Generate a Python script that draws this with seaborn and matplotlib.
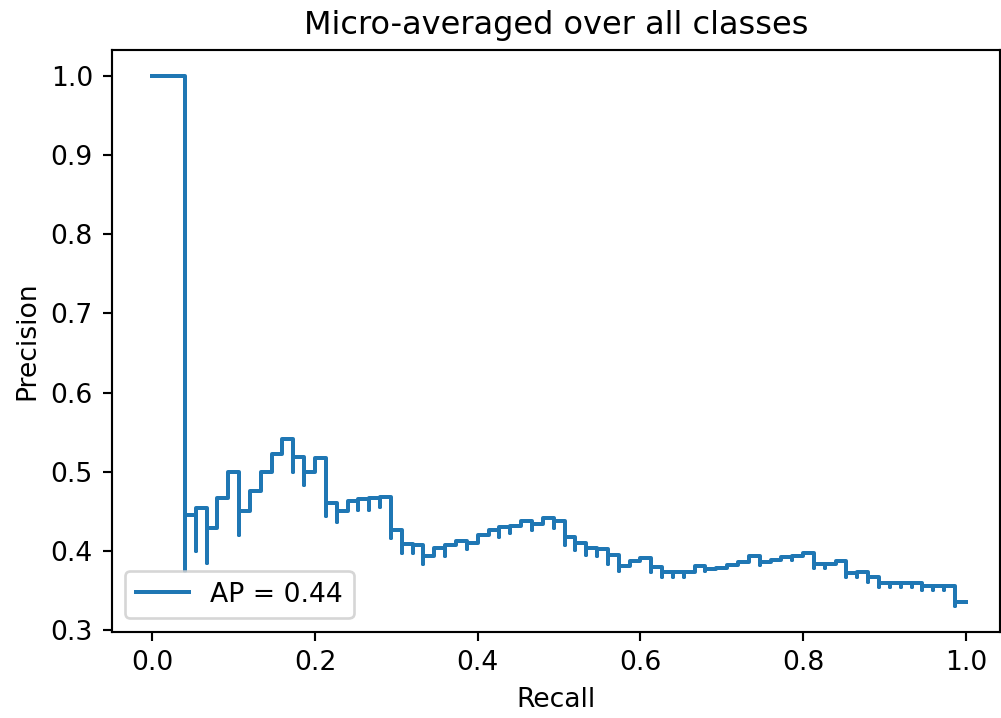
import matplotlib
matplotlib.use("Agg")
import matplotlib.pyplot as plt
import pandas as pd
import seaborn as sns

# Recall reached at each step of the curve (75 positive labels in total)
recall = [
    0.0400, 0.0533, 0.0667, 0.0800, 0.0933, 0.1067, 0.1200, 0.1333, 0.1467, 0.1600,
    0.1733, 0.1867, 0.2000, 0.2133, 0.2267, 0.2400, 0.2533, 0.2667, 0.2800, 0.2933,
    0.3067, 0.3200, 0.3333, 0.3467, 0.3600, 0.3733, 0.3867, 0.4000, 0.4133, 0.4267,
    0.4400, 0.4533, 0.4667, 0.4800, 0.4933, 0.5067, 0.5200, 0.5333, 0.5467, 0.5600,
    0.5733, 0.5867, 0.6000, 0.6133, 0.6267, 0.6400, 0.6533, 0.6667, 0.6800, 0.6933,
    0.7067, 0.7200, 0.7333, 0.7467, 0.7600, 0.7733, 0.7867, 0.8000, 0.8133, 0.8267,
    0.8400, 0.8533, 0.8667, 0.8800, 0.8933, 0.9067, 0.9200, 0.9333, 0.9467, 0.9600,
    0.9733, 0.9867, 1.0000,
]

# Best precision reached at each recall value (the level of the step)
precision_step = [
    1.000, 0.445, 0.454, 0.429, 0.467, 0.500, 0.450, 0.476, 0.500, 0.522,
    0.542, 0.519, 0.500, 0.517, 0.460, 0.450, 0.463, 0.465, 0.467, 0.468,
    0.427, 0.409, 0.408, 0.393, 0.404, 0.407, 0.413, 0.410, 0.420, 0.426,
    0.430, 0.431, 0.438, 0.434, 0.441, 0.438, 0.417, 0.410, 0.404, 0.402,
    0.395, 0.381, 0.387, 0.391, 0.380, 0.373, 0.373, 0.373, 0.381, 0.377,
    0.378, 0.382, 0.386, 0.393, 0.386, 0.388, 0.392, 0.394, 0.397, 0.384,
    0.384, 0.387, 0.372, 0.373, 0.367, 0.359, 0.359, 0.359, 0.359, 0.356,
    0.356, 0.356, 0.336,
]

# Lowest precision seen at the same recall (false positives before the next hit)
precision_low = [
    0.375, 0.400, 0.385, 0.429, 0.467, 0.420, 0.450, 0.476, 0.500, 0.522,
    0.500, 0.483, 0.500, 0.444, 0.436, 0.450, 0.452, 0.452, 0.455, 0.416,
    0.397, 0.397, 0.384, 0.393, 0.394, 0.407, 0.402, 0.410, 0.420, 0.418,
    0.422, 0.431, 0.426, 0.434, 0.429, 0.408, 0.401, 0.395, 0.393, 0.384,
    0.375, 0.381, 0.387, 0.373, 0.367, 0.367, 0.367, 0.373, 0.375, 0.377,
    0.378, 0.382, 0.386, 0.382, 0.386, 0.388, 0.388, 0.394, 0.378, 0.378,
    0.384, 0.367, 0.367, 0.361, 0.354, 0.354, 0.354, 0.354, 0.350, 0.350,
    0.350, 0.331, 0.336,
]

average_precision = 0.44

# Arrange points by decreasing recall, worst precision first at each recall,
# and close the curve at recall 0 with precision 1.
rec_pts, prec_pts = [], []
for r, hi, lo in zip(recall[::-1], precision_step[::-1], precision_low[::-1]):
    if lo < hi:
        rec_pts.append(r)
        prec_pts.append(lo)
    rec_pts.append(r)
    prec_pts.append(hi)
rec_pts.append(0.0)
prec_pts.append(1.0)

curve = pd.DataFrame({"Recall": rec_pts, "Precision": prec_pts})

DPI = 192
fig = plt.figure(figsize=(1001 / DPI, 718 / DPI), dpi=DPI)
ax = fig.add_axes([0.1115, 0.1202, 0.8875, 0.8107])

sns.lineplot(
    data=curve, x="Recall", y="Precision",
    estimator=None, sort=False, drawstyle="steps-post",
    color="#1f77b4", linewidth=1.5,
    label=f"AP = {average_precision:.2f}", ax=ax,
)

ax.set_xlim(-0.05, 1.042)
ax.set_ylim(0.2979, 1.0334)
ax.set_title("Micro-averaged over all classes")
ax.set_xlabel("Recall")
ax.set_ylabel("Precision")
ax.legend(loc="lower left")

fig.savefig("out.png", dpi=DPI)
